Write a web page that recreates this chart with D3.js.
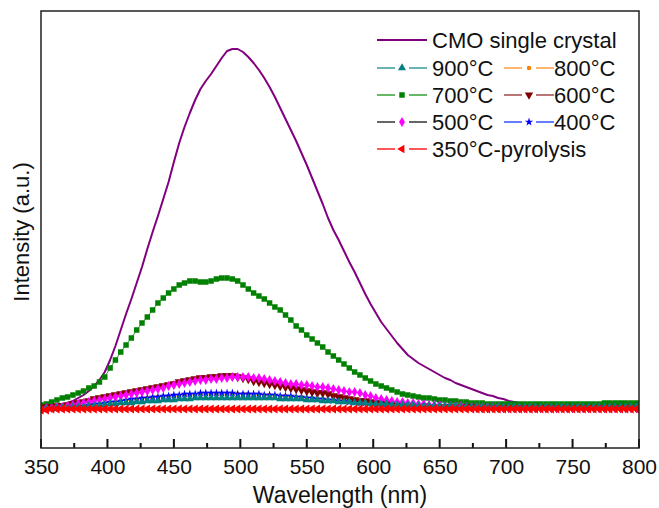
<!DOCTYPE html>
<html>
<head>
<meta charset="utf-8">
<script src="https://cdn.jsdelivr.net/npm/d3@7"></script>
<style>
  body { margin: 0; background: #fff; }
  svg { display: block; font-family: "Liberation Sans", Arial, Helvetica, sans-serif; }
</style>
</head>
<body>
<svg id="chart" width="659" height="508"></svg>
<script>
// Emission spectra: wavelength grid starts at 350 nm with a 4 nm scan step
const scanStart = 350;
const scanStep = 4;

const xTickValues = [350, 400, 450, 500, 550, 600, 650, 700, 750, 800];
const xMinorTicks = [375, 425, 475, 525, 575, 625, 675, 725, 775];

// Intensity (a.u.) of each sample, one value per scan step
const cmoCrystal = [
  -1, 0, 1, 2, 3, 5, 7, 10, 13, 17,
  22, 28, 36, 48, 62, 78, 94, 109, 125, 141,
  159, 176, 192, 209, 226, 246, 265, 281, 295, 308,
  319, 327, 334, 342, 350, 357, 359, 359, 356, 351,
  345, 338, 330, 321, 311, 300, 289, 278, 267, 255,
  243, 230, 217, 204, 190, 178, 168, 157, 146, 136,
  125, 114, 104, 95, 86, 79, 72, 65, 59, 53,
  49, 45, 42, 39, 36, 33, 30, 28, 25, 23,
  21, 19, 17, 15, 13, 12, 10, 9, 7, 6,
  5, 4, 4, 3, 3, 3, 2, 2, 2, 2,
  2, 3, 3, 3, 3, 4, 4, 4, 4, 4,
  4, 5, 5
];
const c900 = [
  -1, -1, -1, 0, 0, 0, 1, 1, 1, 2,
  2, 3, 3, 4, 4, 5, 5, 5, 6, 6,
  7, 7, 7, 8, 8, 8, 9, 9, 9, 10,
  10, 10, 10, 10, 10, 10, 10, 10, 10, 10,
  10, 10, 10, 10, 10, 9, 9, 9, 9, 9,
  8, 8, 8, 7, 7, 7, 6, 6, 6, 5,
  5, 5, 4, 4, 4, 4, 3, 3, 3, 3,
  3, 2, 2, 2, 2, 2, 2, 2, 2, 1,
  1, 1, 1, 1, 1, 1, 1, 1, 1, 1,
  1, 1, 1, 1, 1, 1, 1, 1, 1, 1,
  1, 1, 1, 1, 1, 1, 1, 1, 1, 1,
  1, 1, 1
];
const c800 = [
  -1, -1, 0, 0, 0, 1, 1, 2, 2, 3,
  3, 4, 5, 5, 6, 7, 7, 8, 9, 9,
  10, 10, 11, 11, 12, 12, 12, 13, 13, 13,
  14, 14, 14, 14, 14, 14, 14, 14, 14, 14,
  13, 13, 13, 13, 12, 12, 12, 11, 11, 11,
  10, 10, 9, 9, 8, 8, 7, 7, 6, 6,
  5, 5, 5, 4, 4, 4, 3, 3, 3, 3,
  3, 2, 2, 2, 2, 2, 2, 2, 2, 1,
  1, 1, 1, 1, 1, 1, 1, 1, 1, 1,
  1, 1, 1, 1, 1, 1, 1, 1, 1, 1,
  1, 1, 1, 1, 1, 1, 1, 1, 1, 1,
  1, 1, 1
];
const c700 = [
  3, 4, 6, 8, 10, 11, 13, 15, 17, 20,
  22, 26, 31, 40, 48, 56, 63, 70, 78, 85,
  91, 98, 105, 110, 115, 119, 123, 125, 127, 127,
  126, 126, 127, 129, 130, 130, 129, 127, 123, 119,
  115, 112, 109, 105, 101, 98, 93, 88, 82, 78,
  73, 69, 65, 61, 56, 52, 48, 44, 40, 36,
  33, 30, 27, 24, 22, 20, 18, 16, 14, 13,
  12, 11, 10, 10, 9, 8, 8, 7, 7, 6,
  6, 5, 5, 5, 4, 4, 4, 4, 4, 4,
  4, 4, 4, 4, 4, 4, 4, 4, 4, 4,
  4, 4, 4, 4, 4, 4, 5, 5, 5, 5,
  5, 5, 5
];
const c600 = [
  0, 1, 1, 2, 2, 3, 4, 5, 6, 7,
  9, 10, 11, 12, 13, 14, 15, 16, 17, 18,
  19, 20, 21, 22, 23, 24, 26, 27, 28, 29,
  30, 30, 31, 31, 32, 32, 32, 31, 30, 29,
  27, 26, 25, 24, 23, 22, 21, 20, 19, 18,
  17, 16, 15, 15, 14, 12, 11, 10, 9, 8,
  7, 7, 6, 5, 5, 4, 4, 3, 3, 2,
  2, 2, 2, 1, 1, 1, 1, 1, 1, 1,
  1, 1, 0, 0, 0, 0, 0, 0, 0, 0,
  0, 0, 0, 0, 0, 0, 0, 0, 0, 0,
  0, 0, 0, 0, 0, 0, 0, 0, 0, 0,
  0, 0, 0
];
const c500 = [
  -1, 0, 0, 1, 1, 2, 3, 4, 5, 6,
  7, 8, 9, 10, 11, 12, 13, 14, 15, 16,
  17, 18, 19, 20, 22, 23, 24, 25, 26, 27,
  28, 28, 29, 29, 30, 30, 31, 31, 31, 31,
  30, 30, 29, 28, 27, 26, 25, 24, 24, 23,
  23, 22, 21, 21, 20, 19, 18, 17, 16, 16,
  15, 13, 12, 10, 9, 8, 7, 6, 6, 5,
  5, 4, 4, 3, 3, 3, 2, 2, 2, 2,
  1, 1, 1, 1, 1, 1, 1, 0, 0, 0,
  0, 0, 0, 0, 0, 0, 0, 0, 0, 0,
  0, 0, 0, 0, 0, 0, 0, 0, 0, 0,
  0, 0, 0
];
const c400 = [
  -1, -1, 0, 0, 0, 1, 1, 2, 2, 3,
  4, 4, 5, 6, 6, 7, 8, 9, 9, 10,
  10, 11, 11, 12, 12, 13, 13, 14, 14, 14,
  15, 15, 15, 15, 15, 15, 15, 14, 14, 14,
  14, 14, 13, 13, 13, 12, 12, 12, 11, 11,
  10, 10, 9, 9, 8, 8, 7, 7, 6, 6,
  5, 5, 5, 4, 4, 4, 3, 3, 3, 3,
  3, 3, 2, 2, 2, 2, 2, 2, 2, 2,
  1, 1, 1, 1, 1, 1, 1, 1, 1, 1,
  1, 1, 1, 1, 1, 1, 1, 1, 1, 1,
  1, 1, 1, 1, 1, 1, 1, 1, 1, 1,
  1, 1, 1
];
const c350Pyrolysis = [
  -2, -2, -1, -1, -1, -1, -1, -1, -1, -1,
  -1, -1, -1, -1, -1, -1, -1, -1, -1, -1,
  -1, -1, -1, -1, -1, -1, -1, -1, -1, -1,
  -1, -1, -1, -1, -1, -1, -1, -1, -1, -1,
  -1, -1, -1, -1, -1, -1, -1, -1, -1, -1,
  -1, -1, -1, -1, -1, -1, -1, -1, -1, -1,
  -1, -1, -1, -1, -1, -1, -1, -1, -1, -1,
  -1, -1, -1, -1, -1, -1, -1, -1, -1, -1,
  -1, -1, -1, -1, -1, -1, -1, -1, -1, -1,
  -1, -1, -1, -1, -1, -1, -1, -1, -1, -1,
  -1, -1, -1, -1, -1, -1, -1, -1, -1, -1,
  -1, -1, -1
];

const svg = d3.select("#chart");
const plot = { left: 41, right: 639, top: 11, bottom: 448 };

const x = d3.scaleLinear().domain([350, 800]).range([plot.left, plot.right]);
const y = d3.scaleLinear().domain([-40, 397]).range([plot.bottom, plot.top]);

// Marker shapes (size = symbol area in px²)
function marker(kind, size) {
  const types = {
    up: d3.symbolTriangle, down: d3.symbolTriangle, left: d3.symbolTriangle,
    circle: d3.symbolCircle, square: d3.symbolSquare,
    diamond: d3.symbolDiamond, star: d3.symbolStar
  };
  return d3.symbol().type(types[kind]).size(size)();
}
const rotation = { down: 180, left: -90 };

const series = [
  { key: "cmo", label: "CMO single crystal", values: cmoCrystal, line: "#800080", width: 2, marker: null },
  { key: "800", label: "800\u00b0C", values: c800, line: "#ff9f40", markerColor: "#ff7f00", marker: "circle", size: 16, every: 1 },
  { key: "400", label: "400\u00b0C", values: c400, line: "#3050ff", markerColor: "#0000ff", marker: "star", size: 22, every: 1 },
  { key: "700", label: "700\u00b0C", values: c700, line: "#33a033", markerColor: "#008000", marker: "square", size: 30, every: 1 },
  { key: "600", label: "600\u00b0C", values: c600, line: "#a04848", markerColor: "#800000", marker: "down", size: 36, every: 1 },
  { key: "500", label: "500\u00b0C", values: c500, line: "#333333", markerColor: "#ff00ff", marker: "diamond", size: 30, every: 1 },
  { key: "900", label: "900\u00b0C", values: c900, line: "#3a9a9a", markerColor: "#008080", marker: "up", size: 28, every: 1 },
  { key: "350", label: "350\u00b0C-pyrolysis", values: c350Pyrolysis, line: "#ff2020", markerColor: "#ff0000", marker: "left", size: 36, every: 1 }
];

const wl = i => scanStart + i * scanStep;

svg.append("defs").append("clipPath").attr("id", "plotClip")
  .append("rect")
  .attr("x", plot.left).attr("y", plot.top)
  .attr("width", plot.right - plot.left).attr("height", plot.bottom - plot.top);

const layer = svg.append("g").attr("clip-path", "url(#plotClip)");

const lineGen = d3.line()
  .x((d, i) => x(wl(i)))
  .y(d => y(d));

series.forEach(s => {
  const g = layer.append("g").attr("class", "series-" + s.key);
  g.append("path")
    .datum(s.values)
    .attr("fill", "none")
    .attr("stroke", s.line)
    .attr("stroke-width", s.width || 1)
    .attr("stroke-linejoin", "round")
    .attr("d", lineGen);
  if (s.marker) {
    const pathD = marker(s.marker, s.size);
    const rot = rotation[s.marker] || 0;
    const pts = s.values.map((v, i) => ({ v, i })).filter(d => d.i % s.every === 0);
    g.selectAll("path.m")
      .data(pts)
      .join("path")
      .attr("class", "m")
      .attr("d", pathD)
      .attr("fill", s.markerColor)
      .attr("transform", d => `translate(${x(wl(d.i))},${y(d.v)}) rotate(${rot})`);
  }
});

// Bottom axis labels
const xAxis = d3.axisBottom(x)
  .tickValues(xTickValues)
  .tickFormat(d3.format("d"))
  .tickSize(0)
  .tickPadding(11);
const gx = svg.append("g")
  .attr("transform", `translate(0,${plot.bottom})`)
  .call(xAxis);
gx.select(".domain").remove();
gx.selectAll(".tick line").remove();
gx.selectAll(".tick text").attr("font-size", 21).attr("fill", "#111")
  .attr("font-family", "\"Liberation Sans\", Arial, sans-serif");

// Inward tick marks (major and minor), drawn as rects so they stay crisp
const tickG = svg.append("g");
tickG.selectAll("rect.major").data(xTickValues).join("rect")
  .attr("class", "major")
  .attr("x", d => x(d) - 1).attr("width", 2)
  .attr("y", plot.bottom - 9).attr("height", 9)
  .attr("fill", "#111");
tickG.selectAll("rect.minor").data(xMinorTicks).join("rect")
  .attr("class", "minor")
  .attr("x", d => x(d) - 1).attr("width", 2)
  .attr("y", plot.bottom - 5).attr("height", 5)
  .attr("fill", "#111");

// Frame
svg.append("rect")
  .attr("x", plot.left).attr("y", plot.top)
  .attr("width", plot.right - plot.left).attr("height", plot.bottom - plot.top)
  .attr("fill", "none").attr("stroke", "#222").attr("stroke-width", 1.5);

// Axis titles
svg.append("text")
  .attr("x", (plot.left + plot.right) / 2)
  .attr("y", 503)
  .attr("text-anchor", "middle")
  .attr("font-size", 23)
  .attr("fill", "#111")
  .text("Wavelength (nm)");

svg.append("text")
  .attr("transform", `translate(29,232) rotate(-90)`)
  .attr("text-anchor", "middle")
  .attr("font-size", 22)
  .attr("fill", "#111")
  .text("Intensity (a.u.)");

// Legend
const legendRows = [40, 68, 95, 122, 149];
const legendLayout = [
  { key: "cmo", col: 0, row: 0 },
  { key: "900", col: 0, row: 1 }, { key: "800", col: 1, row: 1 },
  { key: "700", col: 0, row: 2 }, { key: "600", col: 1, row: 2 },
  { key: "500", col: 0, row: 3 }, { key: "400", col: 1, row: 3 },
  { key: "350", col: 0, row: 4 }
];
const colX = [377, 504];
const legend = svg.append("g");
legendLayout.forEach(item => {
  const s = series.find(d => d.key === item.key);
  const x0 = colX[item.col];
  const yy = legendRows[item.row];
  const g = legend.append("g");
  if (!s.marker) {
    g.append("line").attr("x1", x0).attr("x2", x0 + 50).attr("y1", yy).attr("y2", yy)
      .attr("stroke", s.line).attr("stroke-width", 2);
  } else {
    g.append("line").attr("x1", x0).attr("x2", x0 + 18).attr("y1", yy).attr("y2", yy)
      .attr("stroke", s.line).attr("stroke-width", 1.5);
    g.append("line").attr("x1", x0 + 32).attr("x2", x0 + 50).attr("y1", yy).attr("y2", yy)
      .attr("stroke", s.line).attr("stroke-width", 1.5);
    g.append("path")
      .attr("d", marker(s.marker, Math.min(s.size, 30)))
      .attr("fill", s.markerColor)
      .attr("transform", `translate(${x0 + 25},${yy}) rotate(${rotation[s.marker] || 0})`);
  }
  g.append("text")
    .attr("x", x0 + (item.col === 0 ? 55 : 50))
    .attr("y", yy)
    .attr("dy", "0.36em")
    .attr("font-size", 22)
    .attr("fill", "#111")
    .text(s.label);
});
</script>
</body>
</html>
